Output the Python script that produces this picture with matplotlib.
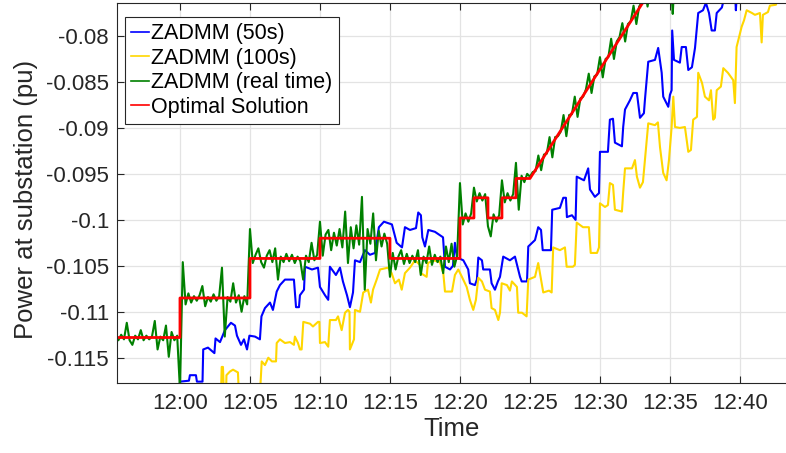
import numpy as np
import matplotlib
matplotlib.use("Agg")
import matplotlib.pyplot as plt
from matplotlib.ticker import FixedLocator, FormatStrFormatter

plt.rcParams["font.family"] = ["Liberation Sans", "DejaVu Sans"]

# ── data (minutes after 12:00, power in pu) ─────────────
x_ticks = [0, 5, 10, 15, 20, 25, 30, 35, 40]
x_tick_labels = ["12:00", "12:05", "12:10", "12:15", "12:20",
                 "12:25", "12:30", "12:35", "12:40"]
y_ticks = [-0.115, -0.11, -0.105, -0.1, -0.095, -0.09, -0.085, -0.08]

# optimal solution: vertices of the stepped / ramped reference
opt_pts = [(-5, -0.1128), (0, -0.1128), (0, -0.1085), (5, -0.1085),
           (5, -0.1042), (10, -0.1042), (10, -0.1020), (15, -0.1020),
           (15, -0.1042), (20, -0.1042), (20, -0.0998), (21, -0.0998),
           (21, -0.0976), (22, -0.0976), (22, -0.0998), (23, -0.0998),
           (23, -0.0976), (24, -0.0976), (24, -0.0955), (25, -0.0955),
           (36, -0.0694)]

# ZADMM (50s)
blue_pts = [(-5.0, -0.1195), (-0.07, -0.1190), (0.0, -0.1176), (0.64, -0.1175),
            (0.71, -0.1169), (1.14, -0.1169), (1.21, -0.1176), (1.61, -0.1176),
            (1.66, -0.1141), (2.0, -0.1139), (2.46, -0.1145), (2.54, -0.1129),
            (2.86, -0.1133), (3.21, -0.1120), (3.64, -0.1112), (3.93, -0.1115),
            (4.07, -0.1126), (4.36, -0.1136), (4.57, -0.1130), (4.79, -0.1141),
            (4.96, -0.1126), (5.36, -0.1127), (5.71, -0.1130), (5.82, -0.1105),
            (6.07, -0.1096), (6.43, -0.1090), (6.64, -0.1098), (6.91, -0.1078),
            (7.14, -0.1071), (7.5, -0.1065), (8.14, -0.1065), (8.29, -0.1095),
            (8.5, -0.1095), (8.57, -0.1082), (8.86, -0.1076), (8.93, -0.1051),
            (9.43, -0.1054), (9.86, -0.1052), (10.0, -0.1073), (10.36, -0.1082),
            (10.59, -0.1087), (10.71, -0.1051), (11.14, -0.1060), (11.43, -0.1052),
            (11.64, -0.1067), (11.93, -0.1082), (12.14, -0.1095), (12.36, -0.1079),
            (12.5, -0.1044), (12.86, -0.1046), (13.21, -0.1033), (13.57, -0.1038),
            (13.93, -0.1036), (14.21, -0.1008), (14.57, -0.1002), (15.14, -0.1005),
            (15.48, -0.1025), (15.86, -0.1030), (16.07, -0.1008), (16.43, -0.1011),
            (16.86, -0.1009), (17.02, -0.0992), (17.21, -0.0995), (17.31, -0.1019),
            (17.5, -0.1029), (17.74, -0.1011), (18.21, -0.1013), (18.79, -0.1019),
            (18.93, -0.1051), (19.29, -0.1054), (19.5, -0.1050), (19.64, -0.1025),
            (19.79, -0.1041), (20.24, -0.1044), (20.59, -0.1054), (20.71, -0.1069),
            (21.07, -0.1071), (21.21, -0.1065), (21.31, -0.1041), (21.57, -0.1044),
            (21.66, -0.1054), (22.14, -0.1054), (22.26, -0.1069), (22.5, -0.1076),
            (22.71, -0.1067), (22.86, -0.1062), (23.09, -0.1040), (23.57, -0.1044),
            (23.93, -0.1040), (24.29, -0.1062), (24.41, -0.1067), (24.79, -0.1067),
            (24.88, -0.1029), (25.36, -0.1022), (25.59, -0.1008), (25.79, -0.1011),
            (25.91, -0.1033), (26.5, -0.1033), (26.59, -0.0989), (27.14, -0.0987),
            (27.38, -0.0976), (27.57, -0.0976), (27.64, -0.0997), (28.0, -0.0995),
            (28.26, -0.1000), (28.34, -0.0953), (28.86, -0.0957), (29.16, -0.0944),
            (29.29, -0.0967), (29.64, -0.0975), (29.93, -0.0971), (30.0, -0.0926),
            (30.57, -0.0926), (30.71, -0.0891), (30.93, -0.0890), (31.07, -0.0916),
            (31.57, -0.0920), (31.66, -0.0899), (31.79, -0.0880), (32.14, -0.0870),
            (32.38, -0.0862), (32.64, -0.0862), (32.86, -0.0889), (33.14, -0.0884),
            (33.21, -0.0870), (33.45, -0.0828), (33.93, -0.0826), (34.16, -0.0813),
            (34.41, -0.0840), (34.52, -0.0866), (34.88, -0.0877), (35.0, -0.0864),
            (35.12, -0.0859), (35.16, -0.0794), (35.29, -0.0826), (35.71, -0.0829),
            (35.84, -0.0812), (36.14, -0.0812), (36.31, -0.0837), (36.57, -0.0834),
            (36.79, -0.0813), (37.02, -0.0775), (37.36, -0.0772), (37.57, -0.0764),
            (37.79, -0.0775), (37.98, -0.0794), (38.21, -0.0794), (38.34, -0.0775),
            (38.71, -0.0769), (38.93, -0.0755), (39.64, -0.0750), (39.71, -0.0772),
            (39.79, -0.0750), (43.5, -0.0700)]

# ZADMM (100s)
yellow_pts = [(-5.0, -0.1200), (2.93, -0.1190), (2.98, -0.1160), (3.07, -0.1160),
              (3.14, -0.1190), (3.29, -0.1190), (3.32, -0.1169), (3.57, -0.1165),
              (3.79, -0.1163), (4.14, -0.1166), (4.21, -0.1190), (5.71, -0.1190),
              (5.84, -0.1154), (6.07, -0.1158), (6.31, -0.1150), (6.57, -0.1154),
              (6.86, -0.1154), (6.91, -0.1134), (7.14, -0.1130), (7.5, -0.1134),
              (7.86, -0.1133), (8.14, -0.1136), (8.21, -0.1127), (8.43, -0.1134),
              (8.57, -0.1141), (8.69, -0.1141), (8.81, -0.1111), (9.29, -0.1113),
              (9.5, -0.1116), (9.86, -0.1111), (9.96, -0.1111), (10.0, -0.1134),
              (10.36, -0.1133), (10.59, -0.1138), (10.71, -0.1109), (11.14, -0.1109),
              (11.29, -0.1105), (11.55, -0.1120), (11.79, -0.1101), (12.0, -0.1098),
              (12.11, -0.1100), (12.14, -0.1141), (12.43, -0.1130), (12.5, -0.1098),
              (12.86, -0.1100), (13.09, -0.1079), (13.43, -0.1076), (13.64, -0.1090),
              (13.79, -0.1076), (14.05, -0.1065), (14.29, -0.1054), (14.86, -0.1052),
              (15.12, -0.1058), (15.36, -0.1069), (15.64, -0.1065), (15.84, -0.1076),
              (16.07, -0.1058), (16.43, -0.1052), (16.79, -0.1044), (17.14, -0.1049),
              (17.21, -0.1058), (17.62, -0.1062), (17.71, -0.1047), (18.09, -0.1044),
              (18.57, -0.1046), (18.81, -0.1058), (18.93, -0.1078), (19.43, -0.1078),
              (19.64, -0.1060), (19.88, -0.1054), (20.14, -0.1062), (20.48, -0.1073),
              (20.71, -0.1087), (20.95, -0.1098), (21.14, -0.1087), (21.31, -0.1063),
              (21.57, -0.1067), (21.79, -0.1076), (22.14, -0.1078), (22.26, -0.1096),
              (22.5, -0.1098), (22.74, -0.1109), (22.86, -0.1101), (22.98, -0.1069),
              (23.36, -0.1071), (23.57, -0.1077), (23.71, -0.1067), (24.07, -0.1073),
              (24.16, -0.1101), (24.43, -0.1101), (24.76, -0.1105), (24.88, -0.1065),
              (25.36, -0.1062), (25.59, -0.1047), (25.79, -0.1065), (25.95, -0.1079),
              (26.36, -0.1077), (26.55, -0.1079), (26.66, -0.1030), (27.14, -0.1033),
              (27.5, -0.1030), (27.62, -0.1051), (28.07, -0.1051), (28.21, -0.1049),
              (28.34, -0.1003), (28.79, -0.1008), (29.21, -0.1008), (29.34, -0.1036),
              (29.79, -0.1036), (29.93, -0.1030), (30.0, -0.0982), (30.36, -0.0986),
              (30.57, -0.0984), (30.71, -0.0960), (30.93, -0.0962), (31.07, -0.0989),
              (31.57, -0.0991), (31.66, -0.0970), (31.79, -0.0944), (32.29, -0.0944),
              (32.5, -0.0935), (32.64, -0.0953), (32.86, -0.0965), (33.07, -0.0959),
              (33.21, -0.0935), (33.45, -0.0895), (33.93, -0.0897), (34.14, -0.0894),
              (34.29, -0.0921), (34.52, -0.0949), (34.76, -0.0957), (34.93, -0.0935),
              (35.12, -0.0899), (35.24, -0.0866), (35.36, -0.0899), (35.71, -0.0900),
              (36.07, -0.0899), (36.31, -0.0926), (36.5, -0.0924), (36.66, -0.0891),
              (36.93, -0.0888), (37.02, -0.0840), (37.29, -0.0851), (37.5, -0.0866),
              (37.79, -0.0870), (37.93, -0.0859), (38.09, -0.0891), (38.21, -0.0889),
              (38.34, -0.0859), (38.64, -0.0855), (38.81, -0.0835), (39.14, -0.0840),
              (39.52, -0.0848), (39.64, -0.0873), (39.76, -0.0812), (40.12, -0.0790),
              (40.29, -0.0783), (40.48, -0.0772), (40.86, -0.0775), (41.07, -0.0777),
              (41.43, -0.0775), (41.55, -0.0807), (41.64, -0.0777), (42.0, -0.0774),
              (42.14, -0.0767), (42.57, -0.0766), (42.79, -0.0755), (43.57, -0.0750)]

# ZADMM (real time): sampled every 0.2 min starting at 11:55:24
green_start = -4.6
green_step = 0.2
green_v = [
    # before 12:00
    -0.1126, -0.1131, -0.1125, -0.1130, -0.1112, -0.1131, -0.1136, -0.1126,
    -0.1130, -0.1120, -0.1131, -0.1126, -0.1130, -0.1127, -0.1110, -0.1141,
    -0.1127, -0.1131, -0.1115, -0.1149, -0.1122, -0.1131, -0.1126,
    # 12:00 - 12:05
    -0.1185, -0.1046, -0.1092, -0.1080, -0.1090, -0.1083, -0.1088, -0.1082,
    -0.1072, -0.1094, -0.1084, -0.1089, -0.1081, -0.1088, -0.1083, -0.1052,
    -0.1127, -0.1084, -0.1089, -0.1069, -0.1090, -0.1082, -0.1100, -0.1083,
    -0.1092,
    # 12:05 - 12:10
    -0.1010, -0.1047, -0.1038, -0.1031, -0.1046, -0.1052, -0.1039, -0.1033,
    -0.1046, -0.1031, -0.1065, -0.1040, -0.1046, -0.1037, -0.1045, -0.1038,
    -0.1047, -0.1040, -0.1045, -0.1065, -0.1039, -0.1046, -0.1025, -0.1044,
    -0.1038,
    # 12:10 - 12:15
    -0.1002, -0.1039, -0.1016, -0.1011, -0.1033, -0.1014, -0.1028, -0.1010,
    -0.1030, -0.0991, -0.1047, -0.1008, -0.1031, -0.1006, -0.1027, -0.0975,
    -0.1076, -0.1010, -0.1026, -0.0993, -0.1044, -0.1012, -0.1029, -0.1015,
    -0.1026,
    # 12:15 - 12:20
    -0.1062, -0.1036, -0.1054, -0.1040, -0.1033, -0.1048, -0.1037, -0.1047,
    -0.1039, -0.1046, -0.1033, -0.1060, -0.1040, -0.1047, -0.1029, -0.1049,
    -0.1038, -0.1046, -0.1040, -0.1058, -0.1029, -0.1046, -0.1026, -0.1051,
    -0.1039,
    # 12:20 - 12:25
    -0.0960, -0.1005, -0.0993, -0.1002, -0.0993, -0.0965, -0.0980, -0.0971,
    -0.0979, -0.0972, -0.1007, -0.1018, -0.0994, -0.1002, -0.0995, -0.0957,
    -0.0981, -0.0971, -0.0979, -0.0972, -0.0938, -0.0989, -0.0952, -0.0959,
    -0.0950,
    # ramp after 12:25
    -0.0953, -0.0948, -0.0947, -0.0930, -0.0946, -0.0929, -0.0928, -0.0910,
    -0.0932, -0.0910, -0.0909, -0.0904, -0.0886, -0.0909, -0.0886, -0.0885,
    -0.0866, -0.0888, -0.0868, -0.0866, -0.0858, -0.0841, -0.0862, -0.0844,
    -0.0842, -0.0823, -0.0845, -0.0825, -0.0823, -0.0803, -0.0825, -0.0806,
    -0.0801, -0.0786, -0.0806, -0.0787, -0.0784, -0.0767, -0.0787, -0.0768,
    -0.0763, -0.0748, -0.0768, -0.0749, -0.0744, -0.0740,
    -0.0736, -0.0733, -0.0728, -0.0726, -0.0722, -0.0776, -0.0716, -0.0712,
    -0.0708, -0.0704,
]

# ── plot ────────────────────────────────────────────────
fig = plt.figure(figsize=(7.86, 4.53), dpi=100)
ax = fig.add_axes([0.1492, 0.1539, 0.8508, 0.8401])

bt, bv = np.array(blue_pts).T
yt, yv = np.array(yellow_pts).T
ot, ov = np.array(opt_pts).T
gt = green_start + green_step * np.arange(len(green_v))

ax.plot(bt, bv, color="#0000FF", lw=1.5, label="ZADMM (50s)")
ax.plot(yt, yv, color="#FFD700", lw=1.5, label="ZADMM (100s)")
ax.plot(gt, green_v, color="#008000", lw=1.5, label="ZADMM (real time)")
ax.plot(ot, ov, color="#FF0000", lw=2.0, label="Optimal Solution")

ax.set_xlim(-4.479, 43.29)
ax.set_ylim(-0.11778, -0.07638)
ax.xaxis.set_major_locator(FixedLocator(x_ticks))
ax.set_xticklabels(x_tick_labels)
ax.yaxis.set_major_locator(FixedLocator(y_ticks))
ax.yaxis.set_major_formatter(FormatStrFormatter("%g"))

ax.grid(True, color="#E3E3E3", lw=0.9)
ax.set_axisbelow(True)
ax.tick_params(direction="in", length=5, width=0.8, colors="#262626",
               labelsize=16, top=True, pad=6)
ax.tick_params(axis="x", pad=7)
for side in ["left", "bottom", "top"]:
    ax.spines[side].set_color("#262626")
    ax.spines[side].set_linewidth(0.8)
ax.spines["right"].set_visible(False)

ax.set_xlabel("Time", fontsize=18.5, color="#262626", labelpad=2)
ax.set_ylabel("Power at substation (pu)", fontsize=18.5, color="#262626")
ax.yaxis.set_label_coords(-0.119, 0.484)

leg = ax.legend(loc="upper left", bbox_to_anchor=(0.0115, 0.963), borderaxespad=0,
                fontsize=15.5, handlelength=0.8, handletextpad=0.12,
                labelspacing=0.16, borderpad=0.3, fancybox=False, framealpha=1)
leg.get_frame().set_edgecolor("#262626")
leg.get_frame().set_linewidth(0.8)
for line in leg.get_lines():
    line.set_linewidth(1.2)

fig.savefig("out.png", dpi=100)
